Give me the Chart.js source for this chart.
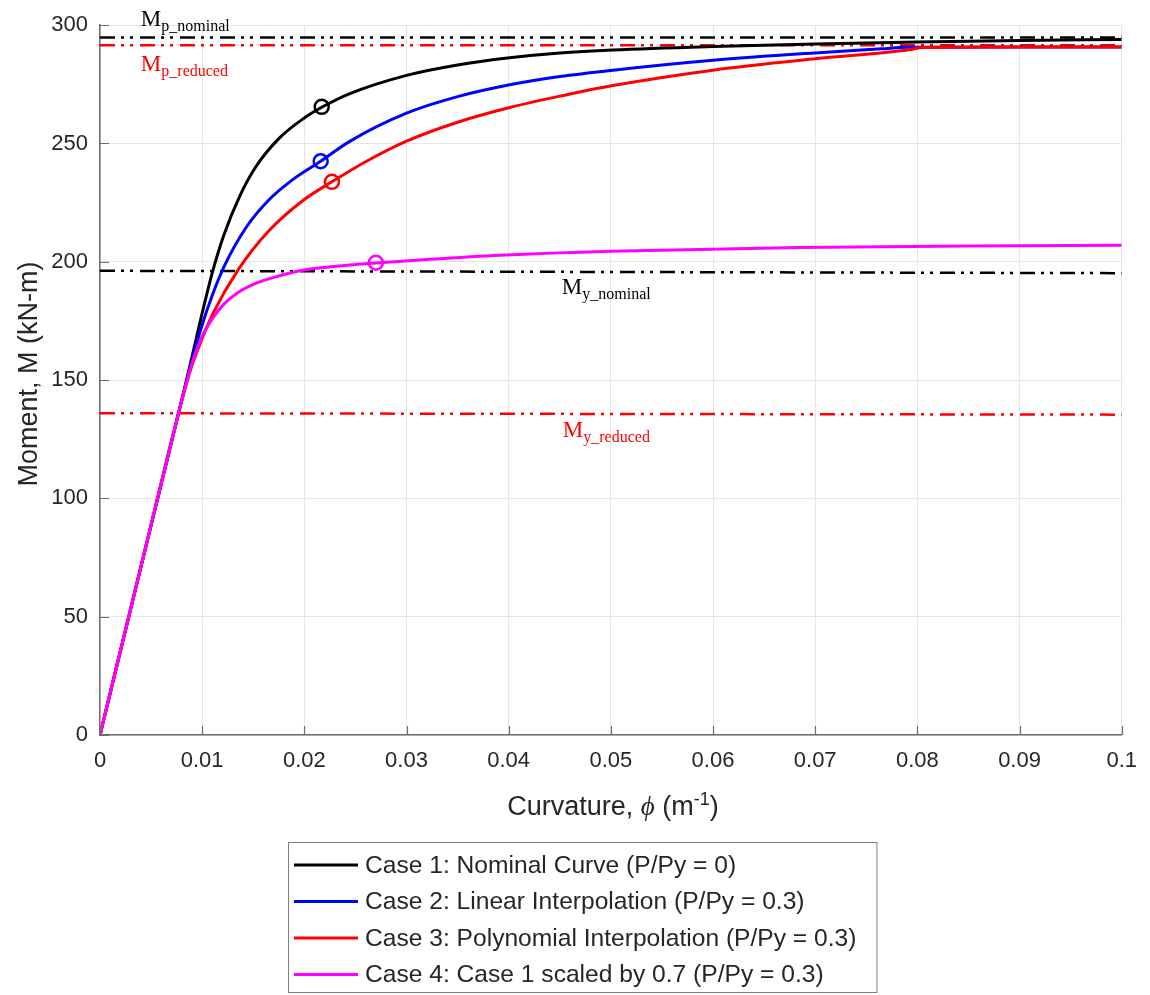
<!DOCTYPE html>
<html>
<head>
<meta charset="utf-8">
<title>Moment-curvature</title>
<script src="https://cdn.jsdelivr.net/npm/chart.js@4/dist/chart.umd.min.js"></script>
<style>
  html, body { margin: 0; padding: 0; background: #fff; }
  #wrap { width: 1150px; height: 995px; }
</style>
</head>
<body>
<div id="wrap"><canvas id="the-graph" width="1150" height="995"></canvas></div>
<script>
// curvature (1/m) and moment (kN-m)
var case1Phi = [0, 0.004, 0.0078, 0.0088, 0.0099, 0.011, 0.0121, 0.0137, 0.0153, 0.0176, 0.0199, 0.0217, 0.0244, 0.03, 0.035, 0.0401, 0.045, 0.0502, 0.06, 0.07, 0.08, 0.09, 0.1];
var case1M   = [0, 71, 138, 156, 176.5, 195.5, 211, 228, 240.5, 252.5, 260.5, 265.3, 271, 278.8, 283.2, 286.2, 288.2, 289.5, 291, 292.1, 292.9, 293.5, 294];

var case2Phi = [0, 0.004, 0.0078, 0.0088, 0.0099, 0.011, 0.0122, 0.0143, 0.0165, 0.0188, 0.0216, 0.0244, 0.03, 0.035, 0.0401, 0.045, 0.0502, 0.06, 0.07, 0.0765, 0.079, 0.09, 0.1];
var case2M   = [0, 71, 138, 155, 172, 186, 198.5, 214.5, 226, 234.5, 242.5, 250.8, 262.8, 269.8, 274.8, 278.3, 281, 285.2, 288.3, 290, 290.7, 290.8, 290.8];

var case3Phi = [0, 0.004, 0.0078, 0.0088, 0.0099, 0.0111, 0.0135, 0.0166, 0.0199, 0.0227, 0.026, 0.03, 0.035, 0.0401, 0.045, 0.0502, 0.06, 0.07, 0.0792, 0.0805, 0.09, 0.1];
var case3M   = [0, 71, 138, 153.5, 166.5, 178.5, 196.5, 213.4, 226, 233.8, 242.3, 251, 259, 265.2, 270, 274.5, 281, 285.8, 289.6, 290.6, 290.8, 290.8];

var case4Phi = [0, 0.004, 0.0078, 0.0085, 0.0092, 0.01, 0.011, 0.0121, 0.0135, 0.015, 0.0175, 0.02, 0.0244, 0.027, 0.032, 0.0391, 0.05, 0.0684, 0.085, 0.1];
var case4M   = [0, 71, 138, 149.5, 159.5, 168.5, 176, 182, 187, 190.5, 194, 196.5, 198.6, 199.5, 201, 202.8, 204.5, 206, 206.7, 207];

// circle markers on each curve
var markPhi = [0.0217, 0.0216, 0.0227, 0.027];
var markM   = [265.5, 242.5, 233.8, 199.6];

// reference moments (start / end of each dash-dot line)
var refNames = ['p_nominal', 'p_reduced', 'y_nominal', 'y_reduced'];
var refM0    = [294.8, 291.5, 196.2, 136.0];
var refM1    = [294.8, 291.5, 195.2, 135.4];

var caseLabels = [
  'Case 1: Nominal Curve (P/Py = 0)',
  'Case 2: Linear Interpolation (P/Py = 0.3)',
  'Case 3: Polynomial Interpolation (P/Py = 0.3)',
  'Case 4: Case 1 scaled by 0.7 (P/Py = 0.3)'
];
var caseColors = ['#000000', '#0000ff', '#ff0000', '#ff00ff'];
var refColors  = ['#000000', '#ff0000', '#000000', '#ff0000'];

var xTickValues = [0, 0.01, 0.02, 0.03, 0.04, 0.05, 0.06, 0.07, 0.08, 0.09, 0.1];
var xTickLabels = ['0', '0.01', '0.02', '0.03', '0.04', '0.05', '0.06', '0.07', '0.08', '0.09', '0.1'];
var yTickValues = [0, 50, 100, 150, 200, 250, 300];
var yTickLabels = ['0', '50', '100', '150', '200', '250', '300'];

var TEXT = '#262626';
var SANS = '"Liberation Sans", Arial, sans-serif';
var SERIF = '"Liberation Serif", "Times New Roman", serif';

function pts(xs, ys) {
  return xs.map(function (x, i) { return { x: x, y: ys[i] }; });
}

var datasets = [];

// markers on top
markPhi.forEach(function (p, i) {
  datasets.push({
    data: [{ x: p, y: markM[i] }],
    showLine: false,
    pointRadius: 7,
    pointBorderWidth: 2.5,
    pointBorderColor: caseColors[i],
    pointBackgroundColor: 'rgba(0,0,0,0)'
  });
});

var curves = [[case4Phi, case4M], [case3Phi, case3M], [case2Phi, case2M], [case1Phi, case1M]];
curves.forEach(function (c, k) {
  datasets.push({
    data: pts(c[0], c[1]),
    showLine: true,
    borderColor: caseColors[3 - k],
    borderWidth: 3,
    pointRadius: 0,
    cubicInterpolationMode: 'monotone'
  });
});

refM0.forEach(function (m, i) {
  datasets.push({
    data: [{ x: 0, y: m }, { x: 0.1, y: refM1[i] }],
    showLine: true,
    borderColor: refColors[i],
    borderWidth: 2.5,
    borderDash: [15, 6, 3, 6, 3, 7],
    pointRadius: 0
  });
});

// text, inward ticks and the boxed legend, drawn over the chart
var extras = {
  id: 'extras',
  afterDraw: function (chart) {
    var ctx = chart.ctx,
        xs = chart.scales.x,
        ys = chart.scales.y,
        area = chart.chartArea;

    ctx.save();

    // MATLAB style ticks point into the axes
    ctx.strokeStyle = '#6e6e6e';
    ctx.lineWidth = 1.2;
    ctx.beginPath();
    xTickValues.forEach(function (v) {
      var px = Math.round(xs.getPixelForValue(v)) + 0.5;
      ctx.moveTo(px, area.bottom);
      ctx.lineTo(px, area.bottom - 9);
    });
    yTickValues.forEach(function (v) {
      var py = Math.round(ys.getPixelForValue(v)) + 0.5;
      ctx.moveTo(area.left, py);
      ctx.lineTo(area.left + 9, py);
    });
    ctx.stroke();

    // M labels for the reference lines
    var labelPhi = [0.004, 0.004, 0.0452, 0.0453];
    var labelDy  = [-12, 26, 23, 23.5];
    refNames.forEach(function (name, i) {
      var x = xs.getPixelForValue(labelPhi[i]);
      var y = ys.getPixelForValue(refM0[i]) + labelDy[i];
      ctx.fillStyle = refColors[i];
      ctx.textAlign = 'left';
      ctx.textBaseline = 'alphabetic';
      ctx.font = '23px ' + SERIF;
      ctx.fillText('M', x, y);
      var w = ctx.measureText('M').width;
      ctx.font = '16px ' + SERIF;
      ctx.fillText(name, x + w, y + 5);
    });

    // axis titles
    ctx.fillStyle = TEXT;
    ctx.save();
    ctx.translate(37, 374);
    ctx.rotate(-Math.PI / 2);
    ctx.textAlign = 'center';
    ctx.textBaseline = 'alphabetic';
    ctx.font = '27px ' + SANS;
    ctx.fillText('Moment, M (kN-m)', 0, 0);
    ctx.restore();

    var parts = [
      { t: 'Curvature, ', f: '27px ' + SANS, dy: 0 },
      { t: '\u03d5', f: 'italic 27px ' + SERIF, dy: 0 },
      { t: ' (m', f: '27px ' + SANS, dy: 0 },
      { t: '-1', f: '18px ' + SANS, dy: -10 },
      { t: ')', f: '27px ' + SANS, dy: 0 }
    ];
    var total = 0;
    parts.forEach(function (p) { ctx.font = p.f; p.w = ctx.measureText(p.t).width; total += p.w; });
    var tx = 613 - total / 2;
    ctx.textAlign = 'left';
    parts.forEach(function (p) {
      ctx.font = p.f;
      ctx.fillText(p.t, tx, 815 + p.dy);
      tx += p.w;
    });

    // legend box
    var boxL = 288, boxT = 842, rowH = 36.5;
    ctx.font = '24.6px ' + SANS;
    var maxW = 0;
    caseLabels.forEach(function (s) { maxW = Math.max(maxW, ctx.measureText(s).width); });
    var boxW = 77 + maxW + 20, boxH = 150;
    ctx.fillStyle = '#ffffff';
    ctx.fillRect(boxL, boxT, boxW, boxH);
    ctx.strokeStyle = '#7f7f7f';
    ctx.lineWidth = 1;
    ctx.strokeRect(boxL + 0.5, boxT + 0.5, boxW, boxH);
    caseLabels.forEach(function (s, i) {
      var cy = boxT + 23 + i * rowH;
      ctx.strokeStyle = caseColors[i];
      ctx.lineWidth = 3;
      ctx.beginPath();
      ctx.moveTo(boxL + 6, cy);
      ctx.lineTo(boxL + 70, cy);
      ctx.stroke();
      ctx.fillStyle = TEXT;
      ctx.textBaseline = 'middle';
      ctx.fillText(s, boxL + 77, cy + 1);
    });

    ctx.restore();
  }
};

var chart = new Chart(document.getElementById('the-graph'), {
  type: 'scatter',
  data: { datasets: datasets },
  options: {
    responsive: false,
    animation: false,
    devicePixelRatio: 1,
    layout: { padding: { left: 0, top: 25, right: 27, bottom: 0 } },
    plugins: { legend: { display: false }, tooltip: { enabled: false } },
    scales: {
      x: {
        type: 'linear',
        min: 0,
        max: 0.1,
        afterFit: function (s) { s.height = 260; },
        afterBuildTicks: function (s) { s.ticks = xTickValues.map(function (v) { return { value: v }; }); },
        grid: { color: '#e6e6e6', lineWidth: 1, drawTicks: false },
        border: { color: '#6e6e6e', width: 1.5 },
        ticks: {
          padding: 13,
          color: TEXT,
          font: { family: SANS, size: 22 },
          maxRotation: 0,
          callback: function (v, i) { return xTickLabels[i]; }
        }
      },
      y: {
        type: 'linear',
        min: 0,
        max: 300,
        afterFit: function (s) { s.width = 100; },
        afterBuildTicks: function (s) { s.ticks = yTickValues.map(function (v) { return { value: v }; }); },
        grid: { color: '#e6e6e6', lineWidth: 1, drawTicks: false },
        border: { color: '#6e6e6e', width: 1.5 },
        ticks: {
          padding: 12,
          color: TEXT,
          font: { family: SANS, size: 22 },
          callback: function (v, i) { return yTickLabels[i]; }
        }
      }
    }
  },
  plugins: [extras]
});
</script>
</body>
</html>
